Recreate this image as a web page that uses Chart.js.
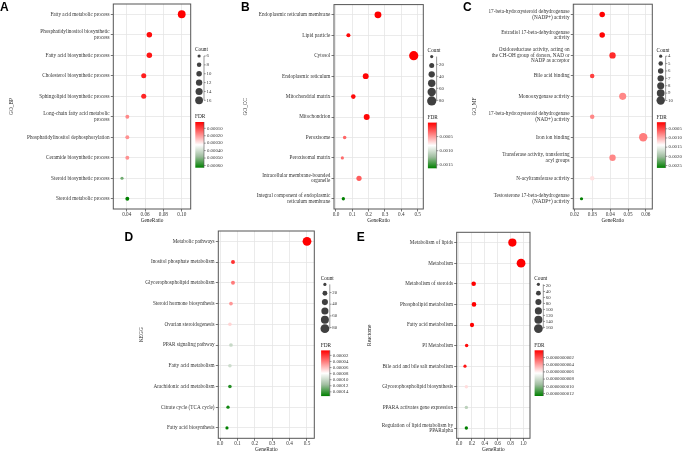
<!DOCTYPE html>
<html>
<head>
<meta charset="utf-8">
<script src="https://cdn.jsdelivr.net/npm/chart.js@4.4.0/dist/chart.umd.min.js"></script>
<style>
  html, body { margin: 0; padding: 0; background: #fff; }
  #wrap { position: relative; width: 685px; height: 453px; overflow: hidden; background: #fff; }
  #wrap canvas { position: absolute; left: 0; top: 0; }
</style>
</head>
<body>
<div id="wrap">
  <canvas id="panelA" width="685" height="453"></canvas>
  <canvas id="panelB" width="685" height="453"></canvas>
  <canvas id="panelC" width="685" height="453"></canvas>
  <canvas id="panelD" width="685" height="453"></canvas>
  <canvas id="panelE" width="685" height="453"></canvas>
</div>
<script>
// A - GO_BP
const bpTerms = [
  'Fatty acid metabolic process',
  'Phosphatidylinositol biosynthetic\nprocess',
  'Fatty acid biosynthetic process',
  'Cholesterol biosynthetic process',
  'Sphingolipid biosynthetic process',
  'Long-chain fatty acid metabolic\nprocess',
  'Phosphatidylinositol dephosphorylation',
  'Ceramide biosynthetic process',
  'Steroid biosynthetic process',
  'Steroid metabolic process'
];
const bpRatio = [0.100, 0.0647, 0.0647, 0.0586, 0.0586, 0.0407, 0.0407, 0.0407, 0.0349, 0.0407];
const bpCount = [16, 10, 10, 9, 9, 7, 7, 7, 6, 7];
const bpFdr = [0.000015, 0.00003, 0.00004, 0.00005, 0.00006, 0.00018, 0.00019, 0.00019, 0.00052, 0.00063];
const bpRatioTicks = [0.04, 0.06, 0.08, 0.10];
const bpCountTicks = [6, 8, 10, 12, 14, 16];
const bpFdrTicks = [0.0001, 0.0002, 0.0003, 0.0004, 0.0005, 0.0006];

// B - GO_CC
const ccTerms = [
  'Endoplasmic reticulum membrane',
  'Lipid particle',
  'Cytosol',
  'Endoplasmic reticulum',
  'Mitochondrial matrix',
  'Mitochondrion',
  'Peroxisome',
  'Peroxisomal matrix',
  'Intracellular membrane-bounded\norganelle',
  'Integral component of endoplasmic\nreticulum membrane'
];
const ccRatio = [0.257, 0.076, 0.476, 0.182, 0.106, 0.188, 0.053, 0.039, 0.141, 0.045];
const ccCount = [44, 13, 81, 31, 18, 32, 9, 7, 24, 8];
const ccFdr = [0.000007, 0.00003, 0.00001, 0.00002, 0.00004, 0.00003, 0.00033, 0.00035, 0.0003, 0.00162];
const ccRatioTicks = [0.0, 0.1, 0.2, 0.3, 0.4, 0.5];
const ccCountTicks = [20, 40, 60, 80];
const ccFdrTicks = [0.0005, 0.0010, 0.0015];

// C - GO_MF
const mfTerms = [
  '17-beta-hydroxysteroid dehydrogenase\n(NADP+) activity',
  'Estradiol 17-beta-dehydrogenase\nactivity',
  'Oxidoreductase activity, acting on\nthe CH-OH group of donors, NAD or\nNADP as acceptor',
  'Bile acid binding',
  'Monooxygenase activity',
  '17-beta-hydroxysteroid dehydrogenase\n(NAD+) activity',
  'Iron ion binding',
  'Transferase activity, transferring\nacyl groups',
  'N-acyltransferase activity',
  'Testosterone 17-beta-dehydrogenase\n(NADP+) activity'
];
const mfRatio = [0.0355, 0.0355, 0.0413, 0.0299, 0.047, 0.0299, 0.0585, 0.0413, 0.0299, 0.0239];
const mfCount = [6, 6, 7, 5, 8, 5, 10, 7, 5, 4];
const mfFdr = [0.00014, 0.00016, 0.00035, 0.00045, 0.0008, 0.0008, 0.00075, 0.0008, 0.00124, 0.00263];
const mfRatioTicks = [0.02, 0.03, 0.04, 0.05, 0.06];
const mfCountTicks = [4, 5, 6, 7, 8, 9, 10];
const mfFdrTicks = [0.0005, 0.0010, 0.0015, 0.0020, 0.0025];

// D - KEGG
const keggTerms = [
  'Metabolic pathways',
  'Inositol phosphate metabolism',
  'Glycerophospholipid metabolism',
  'Steroid hormone biosynthesis',
  'Ovarian steroidogenesis',
  'PPAR signaling pathway',
  'Fatty acid metabolism',
  'Arachidonic acid metabolism',
  'Citrate cycle (TCA cycle)',
  'Fatty acid biosynthesis'
];
const keggRatio = [0.50, 0.0747, 0.0747, 0.063, 0.057, 0.063, 0.057, 0.057, 0.046, 0.040];
const keggCount = [82, 12, 12, 10, 9, 10, 9, 9, 7, 6];
const keggFdr = [0.0000036, 0.000018, 0.00004, 0.000048, 0.000066, 0.000101, 0.000099, 0.000145, 0.00015, 0.000154];
const keggRatioTicks = [0.0, 0.1, 0.2, 0.3, 0.4, 0.5];
const keggCountTicks = [20, 40, 60, 80];
const keggFdrTicks = [0.00002, 0.00004, 0.00006, 0.00008, 0.00010, 0.00012, 0.00014];

// E - Reactome
const reactTerms = [
  'Metabolism of lipids',
  'Metabolism',
  'Metabolism of steroids',
  'Phospholipid metabolism',
  'Fatty acid metabolism',
  'PI Metabolism',
  'Bile acid and bile salt metabolism',
  'Glycerophospholipid biosynthesis',
  'PPARA activates gene expression',
  'Regulation of lipid metabolism by\nPPARalpha'
];
const reactRatio = [0.829, 0.964, 0.228, 0.233, 0.202, 0.119, 0.093, 0.114, 0.114, 0.114];
const reactCount = [141, 164, 39, 40, 34, 20, 16, 19, 19, 19];
const reactFdr = [1e-40, 1e-45, 2e-15, 5e-14, 1e-13, 3e-11, 5e-11, 5.5e-10, 8.6e-10, 1.27e-9];
const reactRatioTicks = [0.0, 0.2, 0.4, 0.6, 0.8, 1.0];
const reactCountTicks = [20, 40, 60, 80, 100, 120, 140, 160];
const reactFdrTicks = [2e-10, 4e-10, 6e-10, 8e-10, 10e-10, 12e-10];

// cores: vermelho (FDR baixo) -> branco -> verde (FDR alto)
const fdrStops = [
  [0, [255, 0, 0]],
  [0.5, [255, 255, 255]],
  [0.75, [160, 190, 160]],
  [1, [0, 128, 0]]
];

const W = 685, H = 453;
const X_AXIS_H = 14.5;
const R_MIN = 1.6;
const SERIF = '"Liberation Serif", "Times New Roman", serif';

const panels = [
  { id: 'panelA', letter: 'A', letterX: 0, letterY: 10.5, title: 'GO_BP',
    terms: bpTerms, ratio: bpRatio, count: bpCount, fdr: bpFdr,
    xTicks: bpRatioTicks, xDec: 2, countTicks: bpCountTicks, fdrTicks: bpFdrTicks, fdrDec: 5,
    box: { l: 113.3, r: 190.7, t: 3, b: 209 }, xMin: 0.0254, xMax: 0.1098, titleX: 11.7,
    rMax: 3.9, nCirc: 6, legDx: 0, legDy: 0 },
  { id: 'panelB', letter: 'B', letterX: 241, letterY: 10.7, title: 'GO_CC',
    terms: ccTerms, ratio: ccRatio, count: ccCount, fdr: ccFdr,
    xTicks: ccRatioTicks, xDec: 1, countTicks: ccCountTicks, fdrTicks: ccFdrTicks, fdrDec: 4,
    box: { l: 334, r: 423.3, t: 3, b: 209 }, xMin: -0.0122, xMax: 0.5346, titleX: 245.6,
    rMax: 4.6, nCirc: 6, legDx: 0, legDy: 0 },
  { id: 'panelC', letter: 'C', letterX: 463, letterY: 10.7, title: 'GO_MF',
    terms: mfTerms, ratio: mfRatio, count: mfCount, fdr: mfFdr,
    xTicks: mfRatioTicks, xDec: 2, countTicks: mfCountTicks, fdrTicks: mfFdrTicks, fdrDec: 4,
    box: { l: 573.3, r: 652.3, t: 3, b: 209 }, xMin: 0.0193, xMax: 0.0636, titleX: 475,
    rMax: 4.2, nCirc: 7, legDx: 0, legDy: 0 },
  { id: 'panelD', letter: 'D', letterX: 124.5, letterY: 241, title: 'KEGG',
    terms: keggTerms, ratio: keggRatio, count: keggCount, fdr: keggFdr,
    xTicks: keggRatioTicks, xDec: 1, countTicks: keggCountTicks, fdrTicks: keggFdrTicks, fdrDec: 5,
    box: { l: 218.3, r: 314.3, t: 231, b: 438.3 }, xMin: -0.0098, xMax: 0.542, titleX: 142,
    rMax: 4.4, nCirc: 6, legDx: 2.2, legDy: 1.4 },
  { id: 'panelE', letter: 'E', letterX: 356.7, letterY: 240.7, title: 'Reactome',
    terms: reactTerms, ratio: reactRatio, count: reactCount, fdr: reactFdr,
    xTicks: reactRatioTicks, xDec: 1, countTicks: reactCountTicks, fdrTicks: reactFdrTicks, fdrDec: 10,
    box: { l: 456.7, r: 530, t: 232.3, b: 438.3 }, xMin: -0.0357, xMax: 1.103, titleX: 370,
    rMax: 4.4, nCirc: 6, legDx: 0, legDy: 0 }
];

function fdrColor(t) {
  t = Math.max(0, Math.min(1, t));
  for (let i = 1; i < fdrStops.length; i++) {
    const [t0, c0] = fdrStops[i - 1];
    const [t1, c1] = fdrStops[i];
    if (t <= t1) {
      const k = (t - t0) / (t1 - t0);
      const c = c0.map((v, j) => Math.round(v + (c1[j] - v) * k));
      return `rgb(${c[0]}, ${c[1]}, ${c[2]})`;
    }
  }
  return 'rgb(0, 128, 0)';
}

// caixa do painel, letra e legendas Count / FDR
function decorPlugin(p, cMin, cMax, fMin, fMax, radius) {
  return {
    id: 'decor' + p.letter,
    afterDraw(chart) {
      const ctx = chart.ctx;
      const a = chart.chartArea;
      ctx.save();

      ctx.strokeStyle = '#555';
      ctx.lineWidth = 1;
      ctx.strokeRect(a.left, a.top, a.right - a.left, a.bottom - a.top);

      ctx.fillStyle = '#000';
      ctx.font = 'bold 12px "Liberation Sans", Arial, sans-serif';
      ctx.textAlign = 'left';
      ctx.textBaseline = 'alphabetic';
      ctx.fillText(p.letter, p.letterX, p.letterY);

      const x0 = a.right + p.legDx;
      const y0 = a.top + p.legDy;
      ctx.textBaseline = 'middle';

      // Count
      ctx.font = '5.3px ' + SERIF;
      ctx.fillStyle = '#222';
      ctx.fillText('Count', x0 + 4.3, y0 + 46);
      const cTop = y0 + 52, cBot = y0 + 96.3;
      ctx.fillStyle = '#404040';
      for (let i = 0; i < p.nCirc; i++) {
        const c = cMin + (cMax - cMin) * i / (p.nCirc - 1);
        const y = cTop + (cBot - cTop) * i / (p.nCirc - 1);
        ctx.beginPath();
        ctx.arc(x0 + 8.4, y, radius(c), 0, Math.PI * 2);
        ctx.fill();
      }
      ctx.strokeStyle = '#555';
      ctx.lineWidth = 0.6;
      ctx.beginPath();
      ctx.moveTo(x0 + 13.3, cTop);
      ctx.lineTo(x0 + 13.3, cBot);
      ctx.stroke();
      ctx.font = '4.8px ' + SERIF;
      ctx.fillStyle = '#333';
      p.countTicks.forEach(v => {
        const y = cTop + (cBot - cTop) * (v - cMin) / (cMax - cMin);
        ctx.beginPath();
        ctx.moveTo(x0 + 13.3, y);
        ctx.lineTo(x0 + 15, y);
        ctx.stroke();
        ctx.fillText(String(v), x0 + 15.8, y);
      });

      // FDR
      ctx.font = '5.3px ' + SERIF;
      ctx.fillStyle = '#222';
      ctx.fillText('FDR', x0 + 4.3, y0 + 113);
      const bTop = y0 + 118, bBot = y0 + 163.7;
      const bL = x0 + 4.6, bR = x0 + 13.3;
      const grad = ctx.createLinearGradient(0, bTop, 0, bBot);
      fdrStops.forEach(([t, c]) => grad.addColorStop(t, `rgb(${c[0]}, ${c[1]}, ${c[2]})`));
      ctx.fillStyle = grad;
      ctx.fillRect(bL, bTop, bR - bL, bBot - bTop);
      ctx.beginPath();
      ctx.moveTo(bR, bTop);
      ctx.lineTo(bR, bBot);
      ctx.stroke();
      ctx.font = '4.8px ' + SERIF;
      ctx.fillStyle = '#333';
      p.fdrTicks.forEach(v => {
        const y = bTop + (bBot - bTop) * (v - fMin) / (fMax - fMin);
        ctx.beginPath();
        ctx.moveTo(bR, y);
        ctx.lineTo(bR + 1.7, y);
        ctx.stroke();
        ctx.fillText(v.toFixed(p.fdrDec), x0 + 16.3, y);
      });

      ctx.restore();
    }
  };
}

function makeChart(p) {
  const ctx = document.getElementById(p.id).getContext('2d');
  const cMin = Math.min(...p.count), cMax = Math.max(...p.count);
  const fMin = Math.min(...p.fdr), fMax = Math.max(...p.fdr);
  const radius = c => Math.sqrt(R_MIN * R_MIN + (p.rMax * p.rMax - R_MIN * R_MIN) * (c - cMin) / (cMax - cMin));

  const data = p.terms.map((t, i) => ({ x: p.ratio[i], y: i + 1, r: radius(p.count[i]) }));
  const colors = p.fdr.map(f => fdrColor((f - fMin) / (fMax - fMin)));

  const tickFont = { family: SERIF, size: 5.2, lineHeight: 1.05 };
  const titleFont = { family: SERIF, size: 5.3, lineHeight: 1.2 };
  const grid = { color: '#e6e6e6', lineWidth: 0.8, tickColor: '#555', tickLength: 2.5, tickWidth: 0.8 };
  const titleLeft = p.titleX - 3.18;

  new Chart(ctx, {
    type: 'bubble',
    data: {
      datasets: [{
        data,
        backgroundColor: colors,
        borderWidth: 0,
        hoverBorderWidth: 0
      }]
    },
    options: {
      responsive: false,
      animation: false,
      devicePixelRatio: 1,
      events: [],
      layout: {
        padding: { left: titleLeft, top: p.box.t, right: W - p.box.r, bottom: H - p.box.b - X_AXIS_H }
      },
      plugins: {
        legend: { display: false },
        tooltip: { enabled: false }
      },
      scales: {
        x: {
          type: 'linear',
          min: p.xMin,
          max: p.xMax,
          afterBuildTicks: s => { s.ticks = p.xTicks.map(v => ({ value: v })); },
          afterFit: s => {
            s.height = X_AXIS_H;
            s.paddingLeft = 0; s.paddingRight = 0;
          },
          ticks: {
            font: tickFont, color: '#333', padding: 0.5, maxRotation: 0, autoSkip: false,
            callback: v => v.toFixed(p.xDec)
          },
          grid,
          border: { display: false },
          title: { display: true, text: 'GeneRatio', font: titleFont, color: '#222', padding: { top: 0, bottom: 0 } }
        },
        y: {
          type: 'linear',
          reverse: true,
          min: 0.5,
          max: p.terms.length + 0.5,
          afterBuildTicks: s => { s.ticks = p.terms.map((t, i) => ({ value: i + 1 })); },
          afterFit: s => {
            s.width = p.box.l - titleLeft;
            s.paddingTop = 0; s.paddingBottom = 0;
          },
          ticks: {
            font: tickFont, color: '#333', padding: 1.2, autoSkip: false,
            callback: v => p.terms[v - 1].split('\n')
          },
          grid,
          border: { display: false },
          title: { display: true, text: p.title, font: titleFont, color: '#222', padding: { top: 0, bottom: 0 } }
        }
      }
    },
    plugins: [decorPlugin(p, cMin, cMax, fMin, fMax, radius)]
  });
}

window.onload = () => {
  panels.forEach(makeChart);
};
</script>
</body>
</html>
